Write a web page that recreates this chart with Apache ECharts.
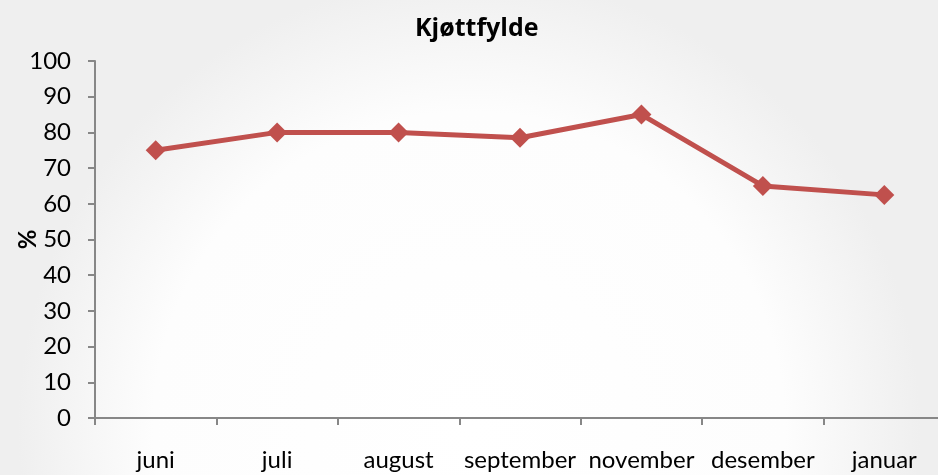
<!DOCTYPE html>
<html>
<head>
<meta charset="utf-8">
<script src="https://cdn.jsdelivr.net/npm/echarts@6/dist/echarts.min.js"></script>
<style>
  html, body { margin: 0; padding: 0; }
  #chart { width: 938px; height: 475px; }
</style>
</head>
<body>
<div id="chart"></div>
<script>
var months = ['juni', 'juli', 'august', 'september', 'november', 'desember', 'januar'];
var values = [75, 80, 80, 78.5, 85, 65, 62.5];
var yTicks = [0, 100, 10]; // min, max, step

var myChart = echarts.init(document.getElementById('chart'));
var option = {
  backgroundColor: {
    type: 'radial', x: 0.5, y: 0.9, r: 0.95,
    colorStops: [
      { offset: 0, color: '#ffffff' },
      { offset: 0.7, color: '#fdfdfd' },
      { offset: 1, color: '#efefef' }
    ]
  },
  textStyle: { fontFamily: 'Lato' },
  title: {
    text: 'Kjøttfylde',
    left: 410,
    top: 11,
    textStyle: { fontSize: 25, fontWeight: 'bold', color: '#000', fontFamily: 'Open Sans' }
  },
  grid: { left: 95, right: -7, top: 61, bottom: 57, outerBoundsMode: 'none', containLabel: false },
  xAxis: {
    type: 'category',
    data: months,
    boundaryGap: true,
    axisLine: { lineStyle: { color: '#878787', width: 2 } },
    axisTick: { show: true, length: 7, lineStyle: { color: '#878787', width: 2 } },
    axisLabel: { color: '#000', fontSize: 24, margin: 30, interval: 0 }
  },
  yAxis: {
    type: 'value',
    min: yTicks[0],
    max: yTicks[1],
    interval: yTicks[2],
    name: '%',
    nameLocation: 'middle',
    nameGap: 55,
    nameMoveOverlap: false,
    nameRotate: 90,
    nameTextStyle: { fontSize: 24, fontWeight: 'bold', color: '#000' },
    axisLine: { show: true, lineStyle: { color: '#878787', width: 2 } },
    axisTick: { show: true, length: 7, inside: false, lineStyle: { color: '#878787', width: 2 } },
    axisLabel: { color: '#000', fontSize: 24, margin: 24 },
    splitLine: { show: false }
  },
  series: [{
    name: 'Kjøttfylde',
    type: 'line',
    data: values,
    symbol: 'diamond',
    symbolSize: 20,
    lineStyle: { color: '#c0504d', width: 5 },
    itemStyle: { color: '#c0504d' },
    animation: false
  }]
};
myChart.setOption(option);
</script>
</body>
</html>
